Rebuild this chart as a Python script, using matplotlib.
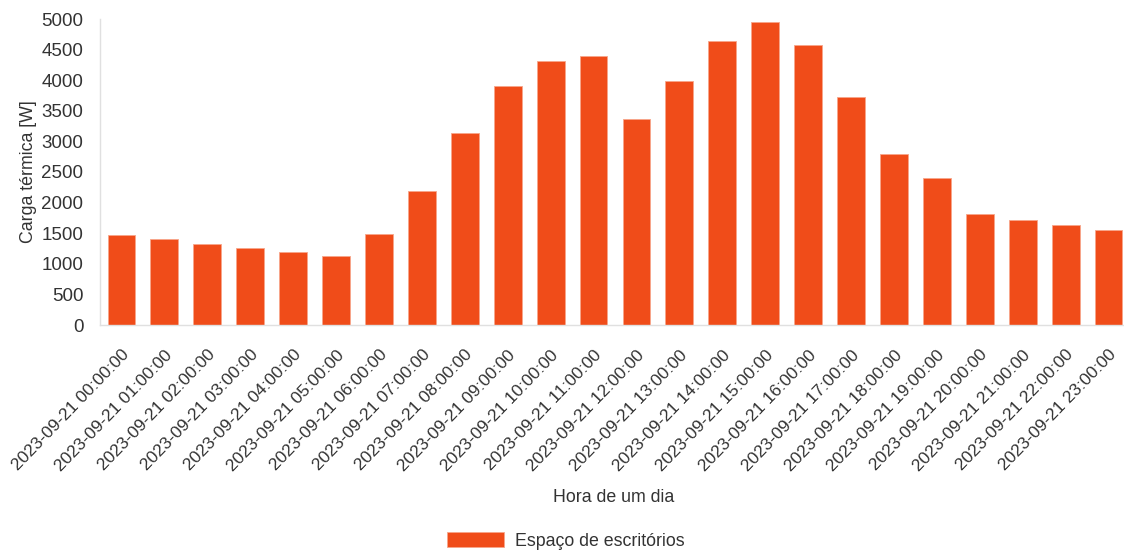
import matplotlib
matplotlib.use("Agg")
import matplotlib.pyplot as plt

plt.rcParams['font.family'] = ['Liberation Sans', 'DejaVu Sans']

# hourly thermal load for one day
hours = ["2023-09-21 %02d:00:00" % h for h in range(24)]
carga = [1470, 1400, 1325, 1255, 1185, 1125, 1490, 2190, 3140, 3900,
         4320, 4400, 3370, 3985, 4640, 4950, 4580, 3725, 2800, 2400,
         1815, 1720, 1635, 1550]
serie = "Espaço de escritórios"

bar_color = '#F04C19'
text_color = '#333333'
axis_color = '#E0E0E0'

fig = plt.figure(figsize=(11.24, 5.53), dpi=100)
ax = fig.add_axes([100 / 1124, 228 / 553, 1030 / 1124, 306 / 553])

ax.bar(range(len(hours)), carga, width=0.65, color=bar_color,
       edgecolor='#F7A58A', linewidth=0.6, label=serie)

ax.set_xlim(-0.5, len(hours) - 0.5)
ax.set_ylim(0, 5000)
ax.set_yticks(range(0, 5001, 500))
ax.set_xticks(range(len(hours)))
ax.set_xticklabels(hours, rotation=46, ha='right', rotation_mode='anchor')

ax.tick_params(axis='both', length=0, colors=text_color)
ax.tick_params(axis='y', pad=12, labelsize=13.5)
ax.tick_params(axis='x', pad=16, labelsize=12.5)

for side in ['top', 'right']:
    ax.spines[side].set_visible(False)
for side in ['left', 'bottom']:
    ax.spines[side].set_color(axis_color)
    ax.spines[side].set_linewidth(1)

ax.set_ylabel("Carga térmica [W]", fontsize=12.8, color=text_color, labelpad=3)
fig.text(614 / 1124, 1 - 497 / 553, "Hora de um dia", fontsize=12.8,
         color=text_color, ha='center', va='center')

fig.legend(loc='center', bbox_to_anchor=(566 / 1124, 1 - 541 / 553),
           frameon=False, fontsize=12.8, handlelength=3.2, handleheight=0.95,
           handletextpad=0.6, labelcolor=text_color)

fig.savefig("out.png", dpi=100)
